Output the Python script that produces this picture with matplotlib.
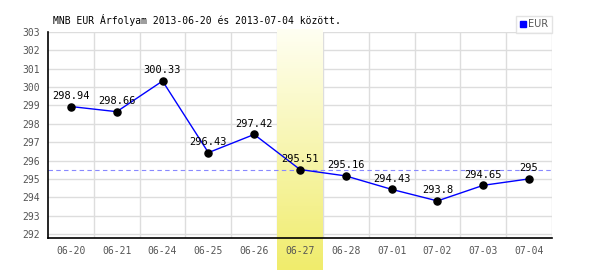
import numpy as np
import matplotlib.pyplot as plt
from matplotlib.colors import LinearSegmentedColormap
from matplotlib.lines import Line2D

datumok = ["06-20", "06-21", "06-24", "06-25", "06-26", "06-27",
           "06-28", "07-01", "07-02", "07-03", "07-04"]
arfolyam = [298.94, 298.66, 300.33, 296.43, 297.42, 295.51,
            295.16, 294.43, 293.8, 294.65, 295]
cimkek = ["298.94", "298.66", "300.33", "296.43", "297.42", "295.51",
          "295.16", "294.43", "293.8", "294.65", "295"]
kiemelt = 5
mono = "DejaVu Sans Mono"

fig = plt.figure(figsize=(6, 2.7), dpi=100)
ax = fig.add_axes([48/600, 32/270, 504/600, 206/270])
x = np.arange(len(datumok))

ax.set_xlim(-0.5, len(datumok) - 0.5)
ax.set_ylim(291.78, 303)
ax.set_yticks(np.arange(292, 304))
ax.set_xticks(x)
ax.set_xticklabels(datumok)

# rácsvonalak kézzel, hogy a sáv eltakarja őket
for yv in np.arange(292, 304):
    ax.axhline(yv, color="#dddddd", linewidth=1, zorder=0.5)
for xv in np.arange(0.5, len(datumok)):
    ax.axvline(xv, color="#dddddd", linewidth=1, zorder=0.5)

for s in ["top", "right"]:
    ax.spines[s].set_visible(False)
for s in ["left", "bottom"]:
    ax.spines[s].set_color("black")
    ax.spines[s].set_linewidth(1.2)
ax.tick_params(length=0, labelsize=7, labelcolor="#555555", pad=6)
for t in ax.get_xticklabels() + ax.get_yticklabels():
    t.set_family(mono)

# kiemelt nap sávja (színátmenet)
cm = LinearSegmentedColormap.from_list("sav", ["#fffff2", "#f0ec6c"])
grad = np.linspace(0, 1, 200).reshape(-1, 1)
ax.imshow(grad, cmap=cm, aspect="auto", origin="upper",
          extent=(kiemelt - 0.5, kiemelt + 0.5, 290.03, 303.16),
          clip_on=False, zorder=1)

ax.axhline(arfolyam[kiemelt], color="#8888ff", linestyle=(0, (4, 3)),
           linewidth=0.8, zorder=1.5)
ax.plot(x, arfolyam, color="blue", linewidth=1, zorder=3)
ax.scatter(x, arfolyam, s=26, color="black", zorder=4)
for xi, yi, c in zip(x, arfolyam, cimkek):
    ax.annotate(c, (xi, yi), xytext=(0, 4), textcoords="offset points",
                ha="center", va="bottom", fontsize=7.5, family=mono, zorder=5)

fig.text(53/600, 1 - 20/270, "MNB EUR Árfolyam 2013-06-20 és 2013-07-04 között.",
         family=mono, fontsize=7, va="center", ha="left")

h = Line2D([], [], marker="s", color="blue", linestyle="none", markersize=5)
leg = ax.legend([h], ["EUR"], loc="upper right",
                bbox_to_anchor=(552/600, 1 - 16/270), bbox_transform=fig.transFigure,
                frameon=True, fancybox=False, fontsize=7, handlelength=0.6,
                handletextpad=0.3, borderpad=0.35, borderaxespad=0)
leg.get_frame().set_edgecolor("#dddddd")
leg.get_frame().set_linewidth(1)
for t in leg.get_texts():
    t.set_color("#555555")

fig.savefig("out.png", dpi=100)
